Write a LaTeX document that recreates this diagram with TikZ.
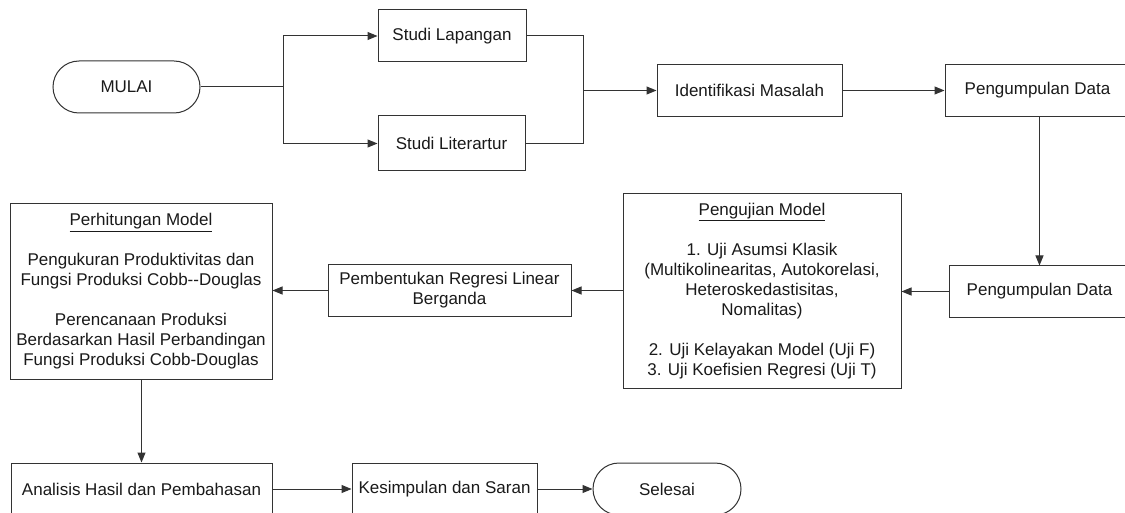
\documentclass[tikz,border=0pt]{standalone}
\usepackage{fontspec}
\setmainfont{Liberation Sans}
\usetikzlibrary{arrows.meta,shapes.misc}
\definecolor{ln}{HTML}{333333}
\definecolor{tx}{HTML}{1A1A1A}
\begin{document}
\begin{tikzpicture}[x=1pt,y=-1pt,
  every node/.style={font=\fontsize{17}{20}\selectfont, text=tx},
  box/.style={draw=ln, line width=1pt, rectangle, inner sep=0pt, align=center},
  term/.style={draw=ln, line width=1pt, rounded rectangle, inner sep=0pt, align=center},
  conn/.style={draw=ln, line width=1pt},
  arr/.style={conn, -{Triangle[length=10pt,width=8pt]}}]
\useasboundingbox (0,0) rectangle (1125,513);
\clip (0,0) rectangle (1125,513);
\fill[white] (0,0) rectangle (1125,513);

\node[term, minimum width=147pt, minimum height=52pt] (mulai) at (126.5,87) {MULAI};
\node[box, minimum width=148pt, minimum height=52pt] (lap) at (452,36) {Studi Lapangan};
\node[box, minimum width=147pt, minimum height=55pt] (lit) at (451.5,143.5) {Studi Literartur};
\node[box, minimum width=185pt, minimum height=52pt] (iden) at (749.5,90.5) {Identifikasi Masalah};
\node[box, minimum width=185pt, minimum height=52pt] (pd1) at (1037.5,90.5) {Pengumpulan Data};
\node[box, minimum width=181pt, minimum height=51pt] (pd2) at (1039.5,291.5) {Pengumpulan Data};
\node[box, minimum width=278pt, minimum height=194pt] (uji) at (762,291) {\underline{Pengujian Model}\\[20pt]1. Uji Asumsi Klasik\\(Multikolinearitas, Autokorelasi,\\Heteroskedastisitas,\\Nomalitas)\\[20pt]2. Uji Kelayakan Model (Uji F)\\3. Uji Koefisien Regresi (Uji T)};
\node[box, minimum width=243pt, minimum height=51pt] (pemb) at (449.5,290.5) {Pembentukan Regresi Linear\\Berganda};
\node[box, minimum width=262pt, minimum height=175pt] (hit) at (141,291.5) {\underline{Perhitungan Model}\\[20pt]Pengukuran Produktivitas dan\\Fungsi Produksi Cobb-{}-Douglas\\[20pt]Perencanaan Produksi\\Berdasarkan Hasil Perbandingan\\Fungsi Produksi Cobb-Douglas};
\node[box, minimum width=261pt, minimum height=52pt] (anal) at (141.5,489) {Analisis Hasil dan Pembahasan};
\node[box, minimum width=185pt, minimum height=52pt] (kes) at (444.5,489) {Kesimpulan dan Saran};
\node[term, minimum width=148pt, minimum height=52pt] (sel) at (667,489) {Selesai};

\coordinate (split) at (283,87);
\coordinate (merge) at (583,90.5);

\draw[conn] (mulai.east) -- (split);
\draw[arr] (split) |- (lap.west);
\draw[arr] (split) |- (lit.west);
\draw[conn] (lap.east) -| (merge);
\draw[conn] (lit.east) -| (merge);
\draw[arr] (merge) -- (iden.west);
\draw[arr] (iden.east) -- (pd1.west);
\draw[arr] (pd1.south -| pd2.north) -- (pd2.north);
\draw[arr] (pd2.west) -- (pd2.west -| uji.east);
\draw[arr] (uji.west |- pemb.east) -- (pemb.east);
\draw[arr] (pemb.west) -- (pemb.west -| hit.east);
\draw[arr] (hit.south -| anal.north) -- (anal.north);
\draw[arr] (anal.east) -- (kes.west);
\draw[arr] (kes.east) -- (sel.west);
\end{tikzpicture}
\end{document}
